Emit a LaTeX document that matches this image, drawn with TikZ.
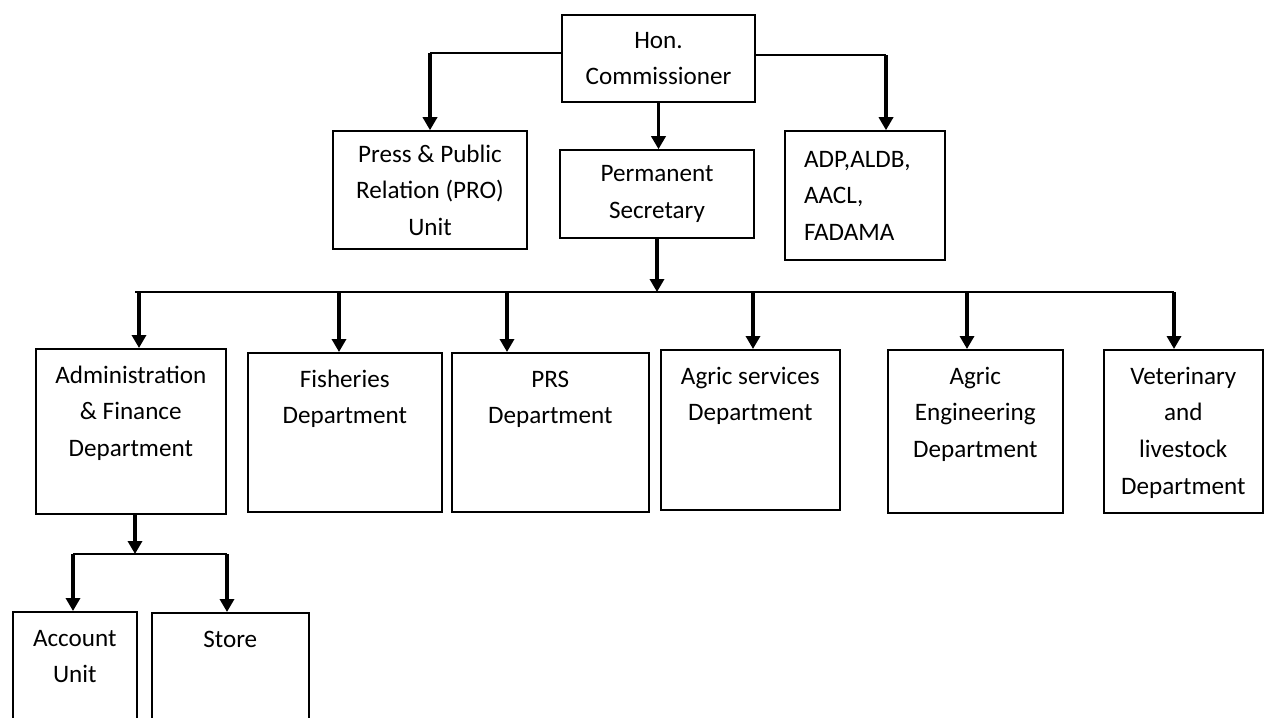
\documentclass[tikz,border=0pt]{standalone}
\usepackage{fontspec}
\setmainfont{Carlito}
\usetikzlibrary{arrows.meta}
% top-aligned text inside a fixed-size box: width, height, text
\newcommand{\topbox}[3]{\parbox[c][#2][t]{#1}{\centering\rule{0pt}{19.7pt}#3}}
\begin{document}
\begin{tikzpicture}
[x=0.02cm,y=-0.02cm,
  font=\fontsize{14.3}{20.8}\selectfont,
  unitbox/.style={shape=rectangle,draw,line width=0.9pt,align=center},%
  deptbox/.style={shape=rectangle,draw,line width=0.9pt,inner sep=0pt,anchor=north west},%
  busline/.style={-,line width=1pt},%
  arrowline/.style={-{Triangle[width=8pt,length=7.4pt]},line width=1.8pt}]
\useasboundingbox (0,0) rectangle (1264,717);
\clip (0,0) rectangle (1264,717);
%% top level
\node (hon) at (658.5,58.5) [unitbox,minimum width=3.86cm,minimum height=1.74cm] {Hon.\\Commissioner};
\node (press) at (430,190) [unitbox,minimum width=3.88cm,minimum height=2.36cm] {Press \& Public\\Relation (PRO)\\Unit};
\node (permsec) at (657,194) [unitbox,minimum width=3.88cm,minimum height=1.76cm] {Permanent\\Secretary};
\node (adp) at (865,195.5) [unitbox,align=left,inner xsep=0.38cm,text width=2.44cm,minimum height=2.58cm] {ADP,ALDB,\\AACL,\\FADAMA};
%% departments
\foreach \name/\x/\y/\w/\h/\txt in {%
  admin/35/348/3.8/3.3/{Administration\\\& Finance\\Department},
  fish/247/352/3.88/3.18/{Fisheries\\Department},
  prs/451/352/3.94/3.18/{PRS\\Department},
  agserv/660/349/3.58/3.2/{Agric services\\Department},
  ageng/887/349/3.5/3.26/{Agric\\Engineering\\Department},
  vet/1103/349/3.18/3.26/{Veterinary\\and\\livestock\\Department},
  account/12/611/2.48/2.8/{Account\\Unit},
  store/151/612/3.14/2.8/{Store}} {
  \node (\name) at (\x,\y) [deptbox] {\topbox{\w cm}{\h cm}{\txt}};
}
%% junction points
\coordinate (hon-l) at (430,53);
\coordinate (hon-r) at (886,55);
\coordinate (bus-l) at (135,292);
\coordinate (bus-r) at (1174,292);
\coordinate (sub-bus) at (135,554);
\coordinate (sub-l) at (73,554);
\coordinate (sub-r) at (227,554);
%% commissioner to units
\draw[busline] (hon.west |- hon-l) -- (hon-l);
\draw[arrowline] (hon-l) -- (press.north);
\draw[busline] (hon.east |- hon-r) -- (hon-r);
\draw[arrowline] (hon-r) -- (hon-r |- adp.north);
\draw[arrowline] (hon.south) -- (hon.south |- permsec.north);
%% secretary to departments
\draw[arrowline] (permsec.south) -- (permsec.south |- bus-l);
\draw[busline] (bus-l) -- (bus-r);
\foreach \name/\x in {admin/139, fish/339, prs/507, agserv/753, ageng/967, vet/1174} {
  \coordinate (\name-in) at (\x,292);
  \draw[arrowline] (\name-in) -- (\name-in |- \name.north);
}
%% administration to sub units
\draw[arrowline] (sub-bus |- admin.south) -- (sub-bus);
\draw[busline] (sub-l) -- (sub-r);
\draw[arrowline] (sub-l) -- (sub-l |- account.north);
\draw[arrowline] (sub-r) -- (sub-r |- store.north);
\end{tikzpicture}
\end{document}
